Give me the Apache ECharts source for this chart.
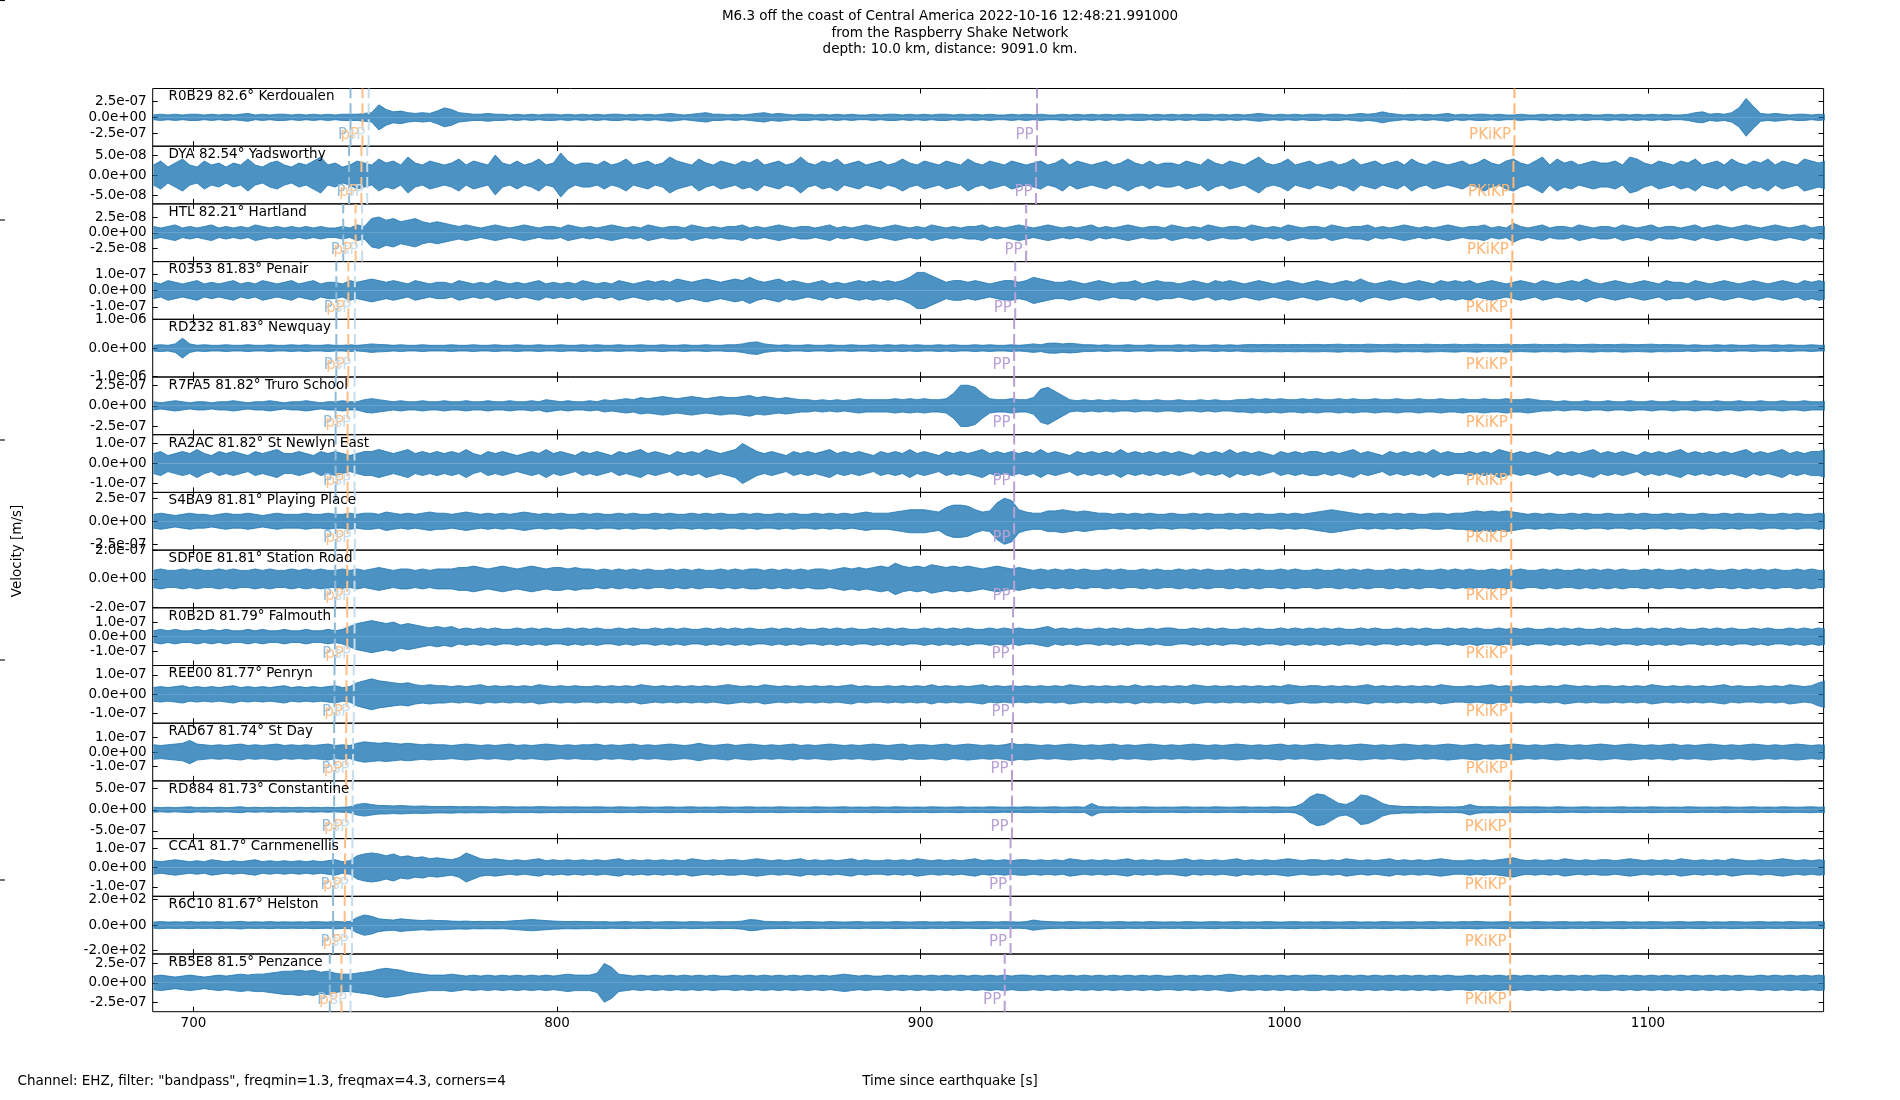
<!DOCTYPE html>
<html>
<head>
<meta charset="utf-8">
<title>M6.3 off the coast of Central America</title>
<script src="https://cdn.jsdelivr.net/npm/echarts@6.0.0/dist/echarts.min.js"></script>
<style>
  html, body { margin: 0; padding: 0; background: #fff; }
  #chart { width: 1900px; height: 1100px; }
</style>
</head>
<body>
<div id="chart"></div>
<script>
// time axis of the traces (s since origin), one envelope value every 2 s
var T_START = 689;
var T_STEP = 2;
var X_MIN = 688.8;
var X_MAX = 1148.3;
var xTicks = [700, 800, 900, 1000, 1100];

var stations = [
    'R0B29 82.6° Kerdoualen', 'DYA 82.54° Yadsworthy', 'HTL 82.21° Hartland', 'R0353 81.83° Penair',
    'RD232 81.83° Newquay', 'R7FA5 81.82° Truro School', 'RA2AC 81.82° St Newlyn East', 'S4BA9 81.81° Playing Place',
    'SDF0E 81.81° Station Road', 'R0B2D 81.79° Falmouth', 'REE00 81.77° Penryn', 'RAD67 81.74° St Day',
    'RD884 81.73° Constantine', 'CCA1 81.7° Carnmenellis', 'R6C10 81.67° Helston', 'RB5E8 81.5° Penzance'
];
var tickVals = [2.5e-7, 5e-8, 2.5e-8, 1e-7, 1e-6, 2.5e-7, 1e-7, 2.5e-7, 2e-7, 1e-7, 1e-7, 1e-7, 5e-7, 1e-7, 2e2, 2.5e-7];
var tickLabels = ['2.5e-07', '5.0e-08', '2.5e-08', '1.0e-07', '1.0e-06', '2.5e-07', '1.0e-07', '2.5e-07',
    '2.0e-07', '1.0e-07', '1.0e-07', '1.0e-07', '5.0e-07', '1.0e-07', '2.0e+02', '2.5e-07'];
var yLims = [4.58e-7, 7.21e-8, 4.58e-8, 1.76e-7, 1.013e-6, 3.5e-7, 1.44e-7, 3.13e-7,
    2.02e-7, 1.98e-7, 1.49e-7, 1.98e-7, 6.8e-7, 1.49e-7, 226.7, 3.72e-7];

// phase arrival times per station (s)
var pTimes = [743.2, 742.8, 741.2, 739.3, 739.3, 739.1, 739.1, 739.1, 739.0, 738.9, 738.8, 738.7, 738.7, 738.4, 738.4, 737.5];
var pPTimes = [746.5, 746.2, 744.6, 742.6, 742.6, 742.4, 742.4, 742.4, 742.3, 742.3, 742.1, 742.0, 742.0, 741.7, 741.6, 740.7];
var sPTimes = [748.2, 747.8, 746.4, 744.4, 744.4, 744.3, 744.3, 744.4, 744.3, 744.3, 744.1, 743.9, 743.8, 743.7, 743.6, 743.2];
var ppTimes = [932.0, 931.7, 929.0, 926.0, 925.7, 925.7, 925.7, 925.7, 925.7, 925.4, 925.4, 925.1, 925.1, 924.7, 924.7, 923.1];
var pkikpTimes = [1063.3, 1063.0, 1062.7, 1062.4, 1062.4, 1062.4, 1062.4, 1062.4, 1062.4, 1062.4, 1062.4, 1062.4, 1062.1, 1062.1, 1062.1, 1062.1];
var phaseNames = ['P', 'pP', 'sP', 'PP', 'PKiKP'];

// trace envelopes (half amplitude), in tenths of each panel's tick value
var ampR0B29 = [1.5,2,1.5,2,1.5,2,2,1.5,2,1.5, 2,1.5,2,2.5,1.5,2,1.5,2,2,1.5,
    2,1.5,2,1.5,2,1.5,2,2,2,2.5, 3,8,5,3.5,4,3,2.5,3,2.5,4,
    6,5,3,2.5,2,2,2.5,2,2,1.5, 2,1.5,2,1.5,2,2,1.5,2,1.5,2,
    1.5,2,1.5,2,2,1.5,2,1.5,2,1.5, 2,2.5,2,1.5,2,2.5,3,2,2,1.5,
    2,1.5,2,2.5,3,2,2.5,2,1.5,2, 2,1.5,2,1.5,2,1.5,2,1.5,1.5,2,
    1.5,2,2,1.5,2,1.5,2,1.5,2,2, 1.5,2,1.5,2,1.5,2,1.5,1.5,2,1.5,
    2,1.5,2,1.5,1.5,2,1.5,2,1.5,2, 1.5,2,1.5,2,1.5,2,2,1.5,2,1.5,
    2,1.5,2,1.5,2,2,1.5,2,1.5,2, 1.5,2,2.5,2,1.5,2,1.5,2,1.5,2,
    2,1.5,2,2,1.5,2,2.5,2,2.5,3.5, 2.5,2,1.5,2,1.5,2,1.5,2,2.5,1.5,
    2,1.5,2,2,1.5,2,1.5,1.5,2,1.5, 1.5,2,1.5,2,1.5,2,1.5,2,1.5,1.5,
    2,1.5,2,1.5,2,1.5,2,1.5,2,1.5, 1.5,2,3,3.5,2,2.5,2,3,6,12,
    7,2.5,2,2.5,2,1.5,2,2,1.5,2,1.5];
var ampDYA = [5,7,4,6,8,5,4,7,5,6, 4,6,5,8,5,4,6,7,5,4,
    6,5,7,9,5,6,4,5,7,6, 5,8,6,7,5,9,6,5,7,6,
    5,6,8,5,7,6,5,10,6,5, 7,5,6,8,5,6,11,7,5,6,
    6,5,7,5,6,8,5,6,7,5, 6,9,7,6,5,8,6,5,7,6,
    5,7,6,8,5,6,7,5,6,9, 6,5,7,6,8,5,6,7,5,6,
    7,5,6,8,6,5,7,6,5,7, 6,5,8,6,5,7,6,5,7,6,
    5,6,7,5,6,8,5,7,6,5, 6,7,5,6,8,6,5,7,5,6,
    6,5,7,6,5,8,6,5,7,6, 5,7,9,6,5,6,8,5,6,7,
    5,6,7,5,6,8,5,6,7,5, 6,7,5,8,6,5,7,6,5,6,
    7,5,6,8,6,5,7,8,6,5, 7,9,5,8,6,7,5,6,7,6,
    6,7,5,9,8,6,5,7,6,5, 7,6,8,5,6,7,5,8,6,5,
    7,6,8,5,7,6,5,8,7,6,7];
var ampHTL = [4,3,4,5,3,4,3,4,5,3, 4,3,4,3,5,4,3,4,3,4,
    3,4,3,4,3,3,4,3,5,4, 9,10,8,9,7,8,9,7,6,7,
    6,5,4,5,4,3,4,5,4,3, 4,5,4,3,4,4,3,5,4,3,
    4,3,4,5,4,3,4,3,5,4, 3,4,4,3,5,4,3,4,3,4,
    4,5,3,4,3,4,5,4,3,4, 4,3,4,5,3,4,3,4,5,4,
    3,4,5,4,3,4,3,5,4,3, 4,3,4,4,5,3,4,3,4,5,
    4,3,4,5,4,3,4,3,4,5, 3,4,3,4,5,4,3,4,4,3,
    5,4,3,4,3,5,4,3,4,4, 3,5,4,3,4,3,5,4,3,4,
    4,3,5,4,3,4,4,5,3,4, 3,4,5,4,3,4,3,4,5,4,
    3,4,4,5,3,4,3,6,4,3, 4,5,3,4,4,3,5,4,3,4,
    4,3,5,4,3,4,5,3,4,4, 3,4,5,3,4,5,4,3,4,5,
    4,3,4,5,4,3,4,5,3,4,4];
var ampR0353 = [5,4,6,5,4,5,6,4,5,4, 5,6,4,5,4,6,5,4,5,6,
    4,5,6,4,5,5,4,6,5,6, 7,6,5,6,5,4,6,5,4,5,
    5,4,6,5,4,5,4,6,5,4, 5,4,5,6,4,5,4,5,4,6,
    5,4,5,4,6,5,4,5,6,5, 6,5,7,6,5,6,7,6,5,6,
    7,6,8,6,5,6,7,5,6,5, 4,5,6,4,5,4,5,6,5,6,
    5,6,5,6,8,11,11,9,7,5, 6,6,5,6,5,4,5,6,6,5,
    6,8,7,6,5,5,6,5,4,5, 6,5,4,5,5,6,4,5,6,5,
    5,4,5,6,5,4,6,5,6,5, 4,5,6,5,4,5,6,5,4,5,
    6,5,4,5,6,5,7,5,4,5, 6,5,4,5,6,5,4,6,5,6,
    5,6,4,5,6,5,4,5,6,5, 4,6,5,4,5,6,5,7,5,4,
    5,6,5,4,5,6,5,4,6,5, 5,4,6,5,4,5,6,5,4,5,
    6,5,4,5,6,5,4,6,5,6,5];
var ampRD232 = [1,1.2,1,1.5,3.5,1.5,1,1.2,1,1, 1.2,1,1,1.2,1,1,1.2,1,1,1.2,
    1,1.2,1,1,1.2,1,1,1.2,1,1.2, 1.5,1.3,1.2,1,1.2,1,1,1.2,1,1,
    1,1.2,1,1,1.2,1,1,1.2,1,1, 1.2,1,1,1.2,1,1,1.2,1,1,1.2,
    1,1.2,1,1,1.2,1,1,1.2,1,1, 1.2,1,1,1.2,1,1,1.2,1,1,1.2,
    1.2,1.5,2,2.2,1.5,1.2,1,1.2,1,1, 1.2,1,1,1.2,1,1,1.2,1,1,1.2,
    1,1.2,1,1.2,1,1.2,1,1,1.2,1, 1.2,1,1,1.2,1,1.2,1,1,1.2,1,
    1.2,1.5,1.2,1.7,1.8,1.5,1.7,1.5,1.2,1.2, 1,1.2,1,1,1.2,1,1,1.2,1,1,
    1,1.2,1,1.2,1,1,1.2,1,1.2,1, 1.2,1.3,1.2,1.3,1.2,1.3,1.2,1.3,1.2,1.3,
    1.3,1.2,1.3,1.4,1.2,1.3,1.2,1.4,1.3,1.2, 1.3,1.4,1.2,1.3,1.2,1.4,1.3,1.2,1.3,1.4,
    1.2,1.3,1.4,1.2,1.3,1.2,1.4,1.3,1.2,1.3, 1.4,1.2,1.3,1.2,1.4,1.3,1.2,1.3,1.4,1.2,
    1.3,1.2,1.4,1.3,1.2,1.3,1.4,1.2,1.3,1.2, 1.2,1,1.2,1,1,1.2,1,1.2,1,1,
    1.2,1,1,1.2,1,1.2,1,1,1.2,1,1];
var ampR7FA5 = [2,1.5,2,2.5,2,1.5,2,2,1.5,2, 2,2.5,2,1.5,2,2,2.5,2,1.5,2,
    2,2.5,2,1.5,2,2,2.5,2,2,3, 3.5,3,2.5,2,2.5,2,2,2.5,2,2,
    2.5,2,2,2.5,2,2,2.5,2,2,2.5, 2,2,2.5,2,3,2.5,2,2.5,2,2,
    2.5,2,3,2.5,3,3.5,3,4,3.5,4, 4.5,4,3.5,4,4.5,4,3.5,4,4.5,4,
    4,4.5,5,4,4.5,4,3.5,4,3.5,3, 3,2.5,3,2.5,3,2.5,3,3.5,3,3,
    3,3,3.5,3,3.5,3,3.5,3,3,3.5, 6,10,10,9,6,3.5,3,3,3.5,3,
    3,4,8,9,7,5,3,2.5,3,2.5, 3,2.5,3,2.5,2.5,3,2.5,2.5,3,2.5,
    2.5,3,2.5,2.5,3,2.5,3,2.5,2.5,3, 3,3.5,3,3.5,3,3.5,3,3,3.5,3,
    3.5,3,3,3.5,3,3.5,3,3,3.5,3, 3,3.5,3,3,3.5,3,3,3.5,3,3,
    3.5,3,3,3.5,3,3,3.5,3,3,3.5, 3,2.5,2.5,2,2.5,2,2,2.5,2,2,
    2.5,2,2,2.5,2,2,2.5,2,2,2.5, 2,2,2.5,2,2,2.5,2,2,2.5,2,
    2,2.5,2,2,2.5,2,2,2.5,2,2,2];
var ampRA2AC = [5,6,4,5,6,5,7,5,4,6, 5,6,5,4,6,5,6,7,5,5,
    6,5,4,6,5,6,5,4,5,6, 6,7,6,5,6,7,5,6,5,6,
    5,6,5,7,5,4,6,5,6,5, 4,5,6,5,7,5,6,5,4,6,
    5,6,5,4,6,5,6,7,5,6, 5,4,6,5,6,5,7,6,5,6,
    7,10,8,6,5,6,5,4,6,5, 6,5,6,7,5,6,5,6,5,4,
    6,5,6,5,7,5,6,5,4,6, 5,6,5,6,7,5,6,5,6,5,
    6,5,7,5,6,5,4,6,5,6, 5,6,5,7,5,6,5,6,5,6,
    5,6,5,4,6,5,6,5,7,5, 6,5,6,5,4,6,5,6,5,6,
    6,5,6,5,6,7,5,6,5,4, 6,5,6,5,6,5,7,5,6,5,
    5,6,5,6,5,7,6,5,6,5, 6,5,4,6,5,6,5,6,7,5,
    6,5,6,5,4,6,5,6,5,6, 7,5,6,5,6,5,6,5,6,7,
    5,6,5,6,7,5,6,5,6,6,7];
var ampS4BA9 = [3,3.5,3,2.5,3,3.5,3,3,2.5,3, 3.5,3,3,3.5,3,2.5,3,3.5,3,3,
    3,3.5,3,3,3.5,3,3,3.5,3,3.5, 3.5,3,4,3.5,3,3.5,3,3.5,4,3.5,
    3.5,3,3.5,4,3.5,3,3.5,3,3.5,3, 3.5,4,3.5,3,3.5,3,3.5,3,3,3.5,
    3,3.5,3,3,3.5,3,3.5,3,3,3.5, 3,3.5,3,3,3.5,3,3.5,3,3.5,3,
    3,3.5,3,3.5,3,3,3.5,3,3.5,3, 3,3.5,3,3.5,3,3.5,3,3.5,4,3.5,
    3.5,3.5,4,4.5,5,5,5,4.5,4,6, 7,7,6.5,5,4,4.5,8,10,9,5,
    4,3.5,3.5,4.5,4.5,5,4.5,4,4.5,4, 3.5,3.5,3,3.5,3,3.5,3,3.5,3,3,
    3.5,3,3,3.5,3,3.5,3,3,3.5,3, 3.5,3,3.5,3,3,3.5,3,3.5,3,3.5,
    4,4.5,5,4.5,4,3.5,3,3.5,3,3.5, 3,3.5,3,3.5,3,3,3.5,3.5,3,3.5,
    3.5,4,4.5,4,4.5,4,4.5,4,3.5,3, 3.5,3,3.5,3,3,3.5,3,3.5,3,3,
    3.5,3,3,3.5,3,3.5,3,3,3.5,3, 3.5,3,3,3.5,3,3,3.5,3,3.5,3,
    3,3.5,3,3,3.5,3,3.5,3,3,3.5,3];
var ampSDF0E = [3,3.5,3,3,3.5,3,3.5,3,3,3.5, 3,3.5,3,3,3.5,3,3.5,3,3,3.5,
    3,3.5,3,3.5,3,3,3.5,3,3.5,3, 3.5,4,3.5,3,3.5,3.5,3,3.5,3,3.5,
    3.5,3.5,4,4,4.5,4,3.5,4,4.5,4, 3.5,4,4.5,4,3.5,4,4,3.5,4,3.5,
    3.5,3,3.5,3,3.5,3,3.5,3,3.5,3, 3,3.5,3,3.5,3,3.5,3,3,3.5,3,
    3.5,3,3.5,3.5,3,3.5,3,3.5,3,3.5, 3,3.5,3.5,3,3.5,4,3.5,4,3.5,4,
    4.5,4,5.5,4.5,4,4.5,4,5,4.5,4, 4.5,4,4.5,4,3.5,4,4.5,4,3.5,4,
    3.5,3,3.5,3,3.5,3,3.5,3,3.5,3, 3,3.5,3,3.5,3,3,3.5,3,3.5,3,
    3,3.5,3,3.5,3,3.5,3,3,3.5,3, 3.5,3,3.5,3,3,3.5,3,3.5,3,3,
    3.5,3,3,3.5,3,3.5,3,3.5,3,3, 3.5,3,3.5,3,3.5,3,3,3.5,3,3.5,
    3,3.5,3,3,3.5,3,3.5,3,3.5,3, 3,3.5,3,3.5,3,3,3.5,3,3.5,3,
    3.5,3,3.5,3,3,3.5,3,3.5,3,3, 3.5,3,3.5,3,3.5,3,3,3.5,3,3.5,
    3,3.5,3,3.5,3,3,3.5,3,3.5,3,3];
var ampR0B2D = [4,5,4,5,4,4,5,4,5,4, 5,4,4,5,4,5,4,4,5,4,
    4,5,4,4,5,4,5,7,9,10, 11,10,9,10,8,9,8,7,6,7,
    6,7,5,6,5,6,5,6,5,5, 6,5,6,5,6,5,5,6,5,6,
    5,6,5,5,6,5,6,5,5,6, 5,6,5,6,5,5,6,5,6,5,
    6,5,6,5,5,6,5,6,5,6, 5,5,6,5,6,5,6,5,5,6,
    5,6,5,6,5,5,6,5,6,5, 6,5,6,5,5,6,5,6,5,6,
    5,5,6,7,5,6,5,6,5,5, 6,5,6,5,6,5,5,6,5,6,
    6,5,5,6,5,6,5,6,5,5, 6,5,6,5,5,6,5,6,5,6,
    5,6,5,6,5,5,6,5,6,5, 5,6,5,6,5,6,5,5,6,5,
    6,5,6,5,5,6,5,6,5,6, 5,5,6,5,6,5,6,5,5,6,
    5,6,5,5,6,5,6,5,6,5, 6,5,5,6,5,6,5,6,5,5,
    6,5,6,5,5,6,5,6,5,6,5];
var ampREE00 = [3.5,4,3.5,4,4.5,3.5,4,3.5,4,3.5, 4,4.5,3.5,4,3.5,4,3.5,4,4.5,3.5,
    4,3.5,4,3.5,4,4.5,3.5,4,6,7, 8,7,6.5,6,5.5,6,5,4.5,5,4.5,
    4.5,4,4.5,4,4.5,5,4,4.5,4,4.5, 4,4.5,4,5,4.5,4,4.5,4,4.5,4,
    4,4.5,4,4.5,4,4.5,4,5,4.5,4, 4.5,4,4.5,4,4.5,4,4.5,4,4.5,5,
    4.5,4,4.5,4,5,4.5,4,4.5,4,4.5, 4,4.5,4,4.5,4,4.5,5,4,4.5,4,
    4,4.5,4,4.5,4,4.5,4,5,4,4.5, 4,4.5,4,4.5,5,4,4.5,4,4.5,4,
    4.5,4,4.5,4,4.5,4,5,4.5,4,4.5, 4,4.5,4,4.5,4,5,4,4.5,4,4.5,
    4,4.5,4,5,4.5,4,4.5,4,4.5,4, 4.5,4,4.5,4,4.5,4,5,4.5,4,4.5,
    4.5,4,4.5,4,4.5,4,4.5,5,4,4.5, 4,4.5,4,4.5,4,4.5,4,5,4.5,4,
    4,4.5,4,4.5,5,4,4.5,4,4.5,4, 4.5,4,4.5,4,5,4.5,4,4.5,4,4.5,
    4.5,4,4.5,4,4.5,4,5,4.5,4,4.5, 4,4.5,4,4.5,4,4.5,5,4,4.5,4,
    4,4.5,4,4.5,4,5,4.5,4,4.5,6,7];
var ampRAD67 = [5,4.5,5,5.5,6,8,5.5,5,4.5,5, 4.5,5,5.5,4.5,5,4.5,5,5.5,4.5,5,
    4.5,5,4.5,5,5.5,4.5,5,4.5,6,7, 6.5,6,6.5,6,5.5,6,5.5,5,5.5,5,
    5,4.5,5,5.5,5,4.5,5,4.5,5,5.5, 4.5,5,4.5,5,5.5,5,4.5,5,4.5,5,
    5,5.5,4.5,5,4.5,5,5.5,4.5,5,4.5, 5,5.5,5,4.5,5,6,5,4.5,5,5.5,
    4.5,5,5.5,5,4.5,5,4.5,5,5.5,4.5, 5,4.5,5,5.5,5,4.5,5,4.5,5,5.5,
    5,4.5,5,5.5,4.5,5,5,4.5,5,5.5, 4.5,5,5.5,5,4.5,5,4.5,5,6,5,
    5.5,5,4.5,5,4.5,5,5.5,5,4.5,5, 4.5,5,5.5,4.5,5,4.5,5,5.5,5,4.5,
    5,4.5,5,5.5,5,4.5,5,4.5,5,5.5, 5,4.5,5,4.5,5,5.5,4.5,5,4.5,5,
    5.5,5,4.5,5,4.5,5,5.5,5,4.5,5, 4.5,5,5.5,5,4.5,5,4.5,5,5.5,5,
    4.5,5,5.5,4.5,5,4.5,5,5.5,5,4.5, 5,4.5,5,5.5,5,4.5,5,4.5,5,5.5,
    5,4.5,5,5.5,5,4.5,5,4.5,5,5.5, 4.5,5,4.5,5,5.5,5,4.5,5,4.5,5,
    5.5,5,4.5,5,4.5,5,5.5,5,4.5,5,4.5];
var ampRD884 = [1.2,1,1.2,1,1.2,1.4,1,1.2,1,1.2, 1,1.2,1.4,1,1.2,1,1.2,1,1.2,1,
    1.2,1,1.2,1,1.2,1,1.2,1.4,2.5,3, 2.5,2,2,1.8,2,1.8,1.6,1.8,1.6,1.5,
    1.5,1.6,1.4,1.5,1.4,1.5,1.4,1.3,1.5,1.4, 1.3,1.4,1.3,1.5,1.4,1.3,1.4,1.3,1.4,1.3,
    1.3,1.4,1.3,1.2,1.4,1.3,1.2,1.4,1.3,1.2, 1.3,1.4,1.2,1.3,1.4,1.2,1.3,1.2,1.4,1.3,
    1.2,1.3,1.4,1.2,1.3,1.2,1.4,1.3,1.2,1.3, 1.2,1.4,1.3,1.2,1.3,1.4,1.2,1.3,1.2,1.4,
    1.3,1.2,1.4,1.3,1.2,1.3,1.2,1.4,1.3,1.2, 1.3,1.4,1.2,1.3,1.2,1.4,1.3,1.2,1.3,1.2,
    1.4,1.3,1.2,1.3,1.4,1.2,1.3,1.4,1.2,3, 1.5,1.3,1.4,1.2,1.3,1.2,1.4,1.3,1.2,1.3,
    1.2,1.3,1.4,1.2,1.3,1.2,1.4,1.3,1.2,1.3, 1.4,1.2,1.3,1.2,1.4,1.3,1.2,1.5,3,6,
    7.5,7,5,3,2.5,4,7,6.5,5,3, 2,1.8,1.5,1.6,1.4,1.5,1.4,1.3,1.4,1.3,
    1.5,2.5,1.6,1.4,1.5,1.3,1.4,1.3,1.4,1.3, 1.4,1.3,1.2,1.4,1.3,1.2,1.3,1.4,1.2,1.3,
    1.2,1.3,1.4,1.2,1.3,1.2,1.4,1.3,1.2,1.3, 1.2,1.4,1.3,1.2,1.3,1.2,1.4,1.3,1.2,1.3,
    1.4,1.2,1.3,1.2,1.4,1.3,1.2,1.3,1.4,1.2,1.3];
var ampCCA1 = [3.5,3,3.5,4,3.5,3,3.5,3,4,3.5, 3,3.5,3,3.5,4,3,3.5,3,3.5,3,
    3.5,3,3.5,3,3.5,4,3,3.5,6,7, 7.5,7,6,7,5.5,6,5,5.5,4.5,5,
    4.5,4,5,7.5,6,4.5,4,4.5,4,3.5, 4,3.5,4,4.5,3.5,4,3.5,4,3.5,4,
    3.5,4,3.5,4,4.5,3.5,4,3.5,4,3.5, 4,3.5,4,3.5,4.5,4,3.5,4,3.5,4,
    4,3.5,4,4.5,4,3.5,4,3.5,4,4.5, 3.5,4,3.5,4,3.5,4,4.5,3.5,4,3.5,
    3.5,4,3.5,4,3.5,4.5,4,3.5,4,3.5, 4,3.5,4,4.5,3.5,4,3.5,4,3.5,4,
    4,3.5,4,3.5,4,3.5,4.5,4,3.5,4, 3.5,4,3.5,4,4.5,3.5,4,3.5,4,3.5,
    3.5,4,4.5,3.5,4,3.5,4,3.5,4,4.5, 3.5,4,3.5,4,3.5,4,4.5,4,3.5,4,
    4,3.5,4,3.5,4.5,4,3.5,4,3.5,4, 4.5,3.5,4,3.5,4,3.5,4,4.5,4,3.5,
    3.5,4,3.5,4,3.5,4,4.5,5,4,3.5, 4,3.5,4,3.5,4.5,4,3.5,4,3.5,4,
    4,3.5,4,4.5,4,3.5,4,3.5,4,3.5, 4.5,4,3.5,4,3.5,4,3.5,4.5,4,3.5,
    3.5,4,3.5,4,4.5,4,3.5,4,3.5,4,3.5];
var ampR6C10 = [1.2,1.4,1.2,1.3,1.2,1.4,1.2,1.3,1.2,1.4, 1.2,1.3,1.5,1.2,1.3,1.2,1.4,1.2,1.3,1.2,
    1.3,1.2,1.4,1.3,1.2,1.5,1.3,1.4,3,4, 3.5,2.5,2.2,2,2.5,2.2,2,1.8,2,1.8,
    1.8,1.6,1.5,1.6,1.4,1.5,1.4,1.5,1.4,1.6, 1.8,2,2.2,2,1.8,1.6,1.5,1.4,1.5,1.4,
    1.4,1.3,1.4,1.2,1.3,1.4,1.2,1.3,1.4,1.2, 1.3,1.4,1.3,1.2,1.4,1.3,1.2,1.3,1.4,1.3,
    1.4,1.6,2.2,2,1.5,1.4,1.3,1.4,1.2,1.3, 1.4,1.3,1.2,1.4,1.3,1.2,1.3,1.4,1.2,1.3,
    1.3,1.2,1.4,1.3,1.2,1.3,1.4,1.2,1.3,1.2, 1.4,1.3,1.2,1.3,1.4,1.3,1.2,1.4,1.3,1.2,
    1.4,2,1.6,1.4,1.3,1.2,1.4,1.3,1.2,1.3, 1.4,1.2,1.3,1.4,1.2,1.3,1.2,1.4,1.3,1.2,
    1.3,1.2,1.4,1.3,1.2,1.3,1.4,1.2,1.3,1.4, 1.2,1.3,1.2,1.4,1.3,1.2,1.3,1.4,1.2,1.3,
    1.2,1.4,1.3,1.2,1.3,1.4,1.2,1.3,1.2,1.4, 1.3,1.2,1.3,1.4,1.2,1.3,1.4,1.2,1.3,1.2,
    1.4,1.3,1.5,1.3,1.2,1.3,1.4,1.2,1.3,1.2, 1.4,1.3,1.2,1.3,1.4,1.2,1.3,1.2,1.4,1.3,
    1.2,1.3,1.4,1.2,1.3,1.2,1.4,1.3,1.2,1.3, 1.4,1.2,1.3,1.4,1.2,1.3,1.2,1.4,1.3,1.2,
    1.3,1.4,1.2,1.3,1.2,1.4,1.3,1.2,1.3,1.4,1.2];
var ampRB5E8 = [3.5,4,3.5,3,3.5,4,3.5,3,3.5,4, 3.5,4,4.5,4,4.5,4.5,5,5.5,6,6,
    6.5,6,6.5,5.5,6,5,4.5,4.5,5,5.5, 6,7,7.5,7,6.5,5.5,5,4.5,4,4,
    4,4.5,4,3.5,4,3.5,4,3.5,4,3.5, 4,3.5,4,3.5,4,3.5,4,4.5,4,4,
    4,5,10,8,4.5,4,3.5,4,3.5,4, 3.5,4,3.5,4,3.5,4,3.5,4,3.5,3.5,
    4,3.5,4,3.5,4,3.5,4,3.5,4,3.5, 4,3.5,4,3.5,4,4.5,4,3.5,4,3.5,
    3.5,4,3.5,4,3.5,4,3.5,4,3.5,4, 3.5,4,3.5,4,3.5,4,3.5,4,3.5,4,
    4,3.5,4,3.5,4,3.5,4,3.5,4,3.5, 4,3.5,4,3.5,4,3.5,4,3.5,4,3.5,
    3.5,4,3.5,4,3.5,4,3.5,4,4.5,4, 3.5,4,3.5,4,3.5,4,3.5,4,3.5,4,
    4,3.5,4,3.5,4,3.5,4,3.5,4,3.5, 4,3.5,4,3.5,4,3.5,4,3.5,4,3.5,
    3.5,4,3.5,4,3.5,4,3.5,4,3.5,4, 3.5,4,3.5,4,3.5,4,3.5,4,3.5,4,
    4,3.5,4,3.5,4,3.5,4,3.5,4,3.5, 4,3.5,4,3.5,4,3.5,4,3.5,4,3.5,
    3.5,4,3.5,4,3.5,4,3.5,4,3.5,4,3.5];

var amps = [ampR0B29, ampDYA, ampHTL, ampR0353, ampRD232, ampR7FA5, ampRA2AC, ampS4BA9,
    ampSDF0E, ampR0B2D, ampREE00, ampRAD67, ampRD884, ampCCA1, ampR6C10, ampRB5E8];

var FONT = 'DejaVu Sans';
var TRACE_COLOR = '#1f77b4';
var phaseColors = ['#8fbbd9', '#ffbf86', '#c6ddec', '#b9a0d5', '#ffb574'];

// layout of the 16 stacked panels
var GRID_LEFT = 152.7, GRID_RIGHT = 76.4, GRID_TOP = 88.5, PANEL_H = 57.7;

function yLabelFormatter(i) {
    return function (v) {
        if (v > 0) return tickLabels[i];
        if (v < 0) return '-' + tickLabels[i];
        return '0.0e+00';
    };
}

function phaseRenderer(lim) {
    return function (params, api) {
        var t = api.value(0), k = api.value(2);
        var top = api.coord([t, lim]);
        var bot = api.coord([t, -lim]);
        return {
            type: 'group',
            children: [{
                type: 'line',
                shape: {x1: bot[0], y1: bot[1], x2: top[0], y2: top[1]},
                style: {stroke: phaseColors[k], lineWidth: 2, lineDash: [11, 5]}
            }, {
                type: 'text',
                x: bot[0] - 3.5,
                y: bot[1] - 4,
                style: {
                    text: phaseNames[k], fill: phaseColors[k], fontSize: 15, fontFamily: FONT,
                    align: 'right', verticalAlign: 'bottom'
                }
            }]
        };
    };
}

var grids = [], xAxes = [], yAxes = [], series = [], graphics = [];

stations.forEach(function (name, i) {
    var top = GRID_TOP + i * PANEL_H;
    var lim = yLims[i];
    var unit = tickVals[i] / 10;
    var yTicks = [-tickVals[i], 0, tickVals[i]];

    grids.push({
        left: GRID_LEFT, right: GRID_RIGHT, top: top, height: PANEL_H,
        show: true, borderColor: '#000', borderWidth: 1, backgroundColor: 'transparent'
    });

    // bottom and top x axes (ticks only, labels on the last panel)
    ['bottom', 'top'].forEach(function (pos) {
        xAxes.push({
            gridIndex: i, type: 'value', position: pos, min: X_MIN, max: X_MAX,
            axisLine: {show: false, onZero: false},
            splitLine: {show: false},
            axisTick: {show: true, inside: true, length: 5, customValues: xTicks, lineStyle: {color: '#000', width: 1}},
            axisLabel: {
                show: pos === 'bottom' && i === stations.length - 1, customValues: xTicks,
                formatter: function (v) { return String(v); },
                color: '#000', fontSize: 13.5, fontFamily: FONT, margin: 5
            }
        });
    });
    // left and right y axes
    ['left', 'right'].forEach(function (pos) {
        yAxes.push({
            gridIndex: i, type: 'value', position: pos, min: -lim, max: lim,
            axisLine: {show: false, onZero: false},
            splitLine: {show: false},
            axisTick: {show: true, inside: true, length: 5, customValues: yTicks, lineStyle: {color: '#000', width: 1}},
            axisLabel: {
                show: pos === 'left', customValues: yTicks, formatter: yLabelFormatter(i),
                color: '#000', fontSize: 13.5, fontFamily: FONT, margin: 6
            }
        });
    });

    var upper = amps[i].map(function (a, k) { return [T_START + k * T_STEP, a * unit]; });
    var lower = amps[i].map(function (a, k) { return [T_START + k * T_STEP, -a * unit]; });
    [upper, lower].forEach(function (d) {
        series.push({
            type: 'line', xAxisIndex: 2 * i, yAxisIndex: 2 * i, data: d,
            symbol: 'none', silent: true, z: 2,
            lineStyle: {color: TRACE_COLOR, width: 0.8},
            areaStyle: {color: TRACE_COLOR, opacity: 0.8}
        });
    });

    series.push({
        type: 'custom', xAxisIndex: 2 * i, yAxisIndex: 2 * i, silent: true, z: 5,
        data: [[pTimes[i], 0, 0], [pPTimes[i], 0, 1], [sPTimes[i], 0, 2], [ppTimes[i], 0, 3], [pkikpTimes[i], 0, 4]],
        renderItem: phaseRenderer(lim)
    });

    graphics.push({
        type: 'text', x: 168.6, y: top + 8.3, z: 10,
        style: {text: name, fill: '#000', fontSize: 13.5, fontFamily: FONT, align: 'left', verticalAlign: 'middle'}
    });
});

// title, footer and axis title
var titleLines = ['M6.3 off the coast of Central America 2022-10-16 12:48:21.991000',
    'from the Raspberry Shake Network', 'depth: 10.0 km, distance: 9091.0 km.'];
titleLines.forEach(function (txt, k) {
    graphics.push({
        type: 'text', x: 950, y: 16.7 + k * 16.3,
        style: {text: txt, fill: '#000', fontSize: 13.5, fontFamily: FONT, align: 'center', verticalAlign: 'middle'}
    });
});
graphics.push({
    type: 'text', x: 17.5, y: 1081,
    style: {text: 'Channel: EHZ, filter: "bandpass", freqmin=1.3, freqmax=4.3, corners=4', fill: '#000',
        fontSize: 13.5, fontFamily: FONT, align: 'left', verticalAlign: 'middle'}
});
graphics.push({
    type: 'text', x: 950, y: 1081,
    style: {text: 'Time since earthquake [s]', fill: '#000', fontSize: 13.5, fontFamily: FONT, align: 'center', verticalAlign: 'middle'}
});
graphics.push({
    type: 'text', x: 17, y: 551, rotation: Math.PI / 2,
    style: {text: 'Velocity [m/s]', fill: '#000', fontSize: 13.5, fontFamily: FONT, align: 'center', verticalAlign: 'middle'}
});
// stray tick marks of the hidden full-figure axes on the left edge
[0.5, 220, 440, 660, 880].forEach(function (y) {
    graphics.push({type: 'line', shape: {x1: 0, y1: y, x2: 4.9, y2: y}, style: {stroke: '#000', lineWidth: 1.1}});
});

var myChart = echarts.init(document.getElementById('chart'));
myChart.setOption({
    animation: false,
    backgroundColor: '#fff',
    grid: grids,
    xAxis: xAxes,
    yAxis: yAxes,
    series: series,
    graphic: {elements: graphics}
});
</script>
</body>
</html>
